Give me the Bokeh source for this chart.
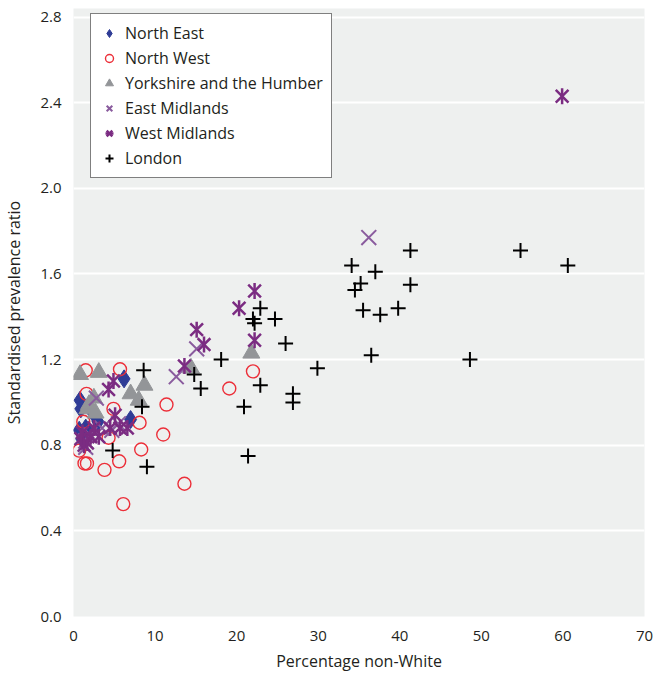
from bokeh.plotting import figure
from bokeh.models import (Range1d, FixedTicker, PrintfTickFormatter, Legend, LegendItem)
from bokeh.embed import file_html
from bokeh.resources import INLINE
import math

# ---------------- data ----------------
north_east_x = [0.8, 0.9, 0.7, 6.2, 7.0, 3.0, 1.5, 2.4, 1.0]
north_east_y = [1.01, 0.97, 0.87, 1.11, 0.92, 0.91, 0.88, 0.95, 0.83]

north_west_x = [1.5, 5.7, 11.4, 1.6, 4.9, 8.1, 1.2, 11.0, 4.3, 8.3, 0.7, 1.35, 1.65,
                5.6, 3.8, 6.1, 13.6, 22.0, 19.1]
north_west_y = [1.15, 1.155, 0.99, 1.04, 0.97, 0.905, 0.91, 0.85, 0.835, 0.78, 0.775,
                0.715, 0.715, 0.725, 0.685, 0.525, 0.62, 1.145, 1.065]

yorkshire_x = [0.8, 3.1, 8.7, 7.0, 8.0, 2.5, 1.7, 2.7, 1.9, 14.4, 21.8]
yorkshire_y = [1.13, 1.14, 1.08, 1.04, 1.01, 1.02, 0.97, 0.95, 0.99, 1.16, 1.23]

east_mid_x = [36.2, 15.1, 12.6, 2.8, 4.7, 1.5, 1.5, 2.0, 5.5, 3.5]
east_mid_y = [1.77, 1.25, 1.12, 1.02, 0.87, 0.82, 0.79, 0.85, 0.90, 0.88]

west_mid_x = [59.9, 22.2, 20.3, 15.1, 16.0, 22.2, 13.6, 4.9, 4.3, 5.1, 5.7, 4.5, 6.6,
              1.1, 2.1, 0.9, 1.7, 3.1, 2.5, 1.3]
west_mid_y = [2.43, 1.52, 1.44, 1.34, 1.27, 1.29, 1.17, 1.10, 1.06, 0.94, 0.88, 0.88,
              0.88, 0.86, 0.84, 0.83, 0.81, 0.84, 0.88, 0.80]

london_x = [54.8, 60.6, 48.6, 41.3, 34.1, 37.0, 35.2, 34.5, 41.3, 35.5, 37.6, 39.8,
            36.5, 22.9, 22.0, 22.2, 24.7, 26.0, 18.1, 29.9, 14.8, 15.6, 22.9, 26.9,
            26.9, 20.9, 21.4, 8.6, 8.4, 4.8, 9.0]
london_y = [1.71, 1.64, 1.20, 1.71, 1.64, 1.61, 1.555, 1.525, 1.55, 1.43, 1.41, 1.44,
            1.22, 1.44, 1.39, 1.37, 1.39, 1.275, 1.20, 1.16, 1.13, 1.065, 1.08, 1.04,
            1.00, 0.98, 0.75, 1.15, 0.98, 0.775, 0.70]

x_ticks = [0, 10, 20, 30, 40, 50, 60, 70]
y_ticks = [0.0, 0.4, 0.8, 1.2, 1.6, 2.0, 2.4, 2.8]

# ---------------- figure ----------------
FONT = "Open Sans"
p = figure(width=657, height=675, output_backend="svg", toolbar_location=None,
           x_range=Range1d(0, 70), y_range=Range1d(0, 2.84),
           min_border_left=68, min_border_right=13, min_border_top=8,
           min_border_bottom=59)
p.background_fill_color = "#eef0ef"
p.border_fill_color = "white"
p.outline_line_color = None

p.xgrid.grid_line_color = None
p.ygrid.grid_line_color = "white"
p.ygrid.grid_line_width = 2

for ax in (p.xaxis[0], p.yaxis[0]):
    ax.axis_line_color = None
    ax.major_tick_line_color = None
    ax.minor_tick_line_color = None
    ax.major_label_text_font = FONT
    ax.major_label_text_font_size = "15px"
    ax.major_label_text_color = "#231f20"
    ax.axis_label_text_font = FONT
    ax.axis_label_text_font_size = "16px"
    ax.axis_label_text_font_style = "normal"
    ax.axis_label_text_color = "#231f20"

p.xaxis.ticker = FixedTicker(ticks=x_ticks)
p.yaxis.ticker = FixedTicker(ticks=y_ticks)
p.yaxis.formatter = PrintfTickFormatter(format="%.1f")
p.xaxis.axis_label = "Percentage non-White"
p.yaxis.axis_label = "Standardised prevalence ratio"
p.xaxis.major_label_standoff = 8
p.yaxis.major_label_standoff = 6
p.xaxis.axis_label_standoff = 6
p.yaxis.axis_label_standoff = 12

# ---------------- series ----------------
r_ne = p.scatter(north_east_x, north_east_y, marker="diamond", size=18,
                 fill_color="#2f3c96", line_color="#2f3c96")
r_nw = p.scatter(north_west_x, north_west_y, marker="circle", size=13,
                 fill_color=None, line_color="#ec2f39", line_width=1.4)
r_yh = p.scatter(yorkshire_x, yorkshire_y, marker="triangle", size=17,
                 fill_color="#939598", line_color="#939598")
r_em = p.scatter(east_mid_x, east_mid_y, marker="x", size=21,
                 line_color="#8a5c9e", line_width=2)
r_wm1 = p.scatter(west_mid_x, west_mid_y, marker="x", size=18,
                  line_color="#7b2c82", line_width=2.5)
r_wm2 = p.scatter(west_mid_x, west_mid_y, marker="dash", size=16, angle=math.pi / 2,
                  line_color="#7b2c82", line_width=2.5)
r_ld = p.scatter(london_x, london_y, marker="cross", size=15,
                 line_color="black", line_width=2)

legend = Legend(items=[
    LegendItem(label="North East", renderers=[r_ne]),
    LegendItem(label="North West", renderers=[r_nw]),
    LegendItem(label="Yorkshire and the Humber", renderers=[r_yh]),
    LegendItem(label="East Midlands", renderers=[r_em]),
    LegendItem(label="West Midlands", renderers=[r_wm1, r_wm2]),
    LegendItem(label="London", renderers=[r_ld]),
], location=(17, 438))
legend.background_fill_color = "white"
legend.background_fill_alpha = 1
legend.border_line_color = "black"
legend.border_line_width = 1
legend.label_text_font = FONT
legend.label_text_font_size = "16px"
legend.label_text_color = "#231f20"
legend.glyph_height = 20
legend.glyph_width = 20
legend.label_height = 20
legend.spacing = 3
legend.padding = 8
legend.label_standoff = 6
legend.margin = 0
p.add_layout(legend, "center")

open("out.html", "w").write(file_html(p, INLINE))
